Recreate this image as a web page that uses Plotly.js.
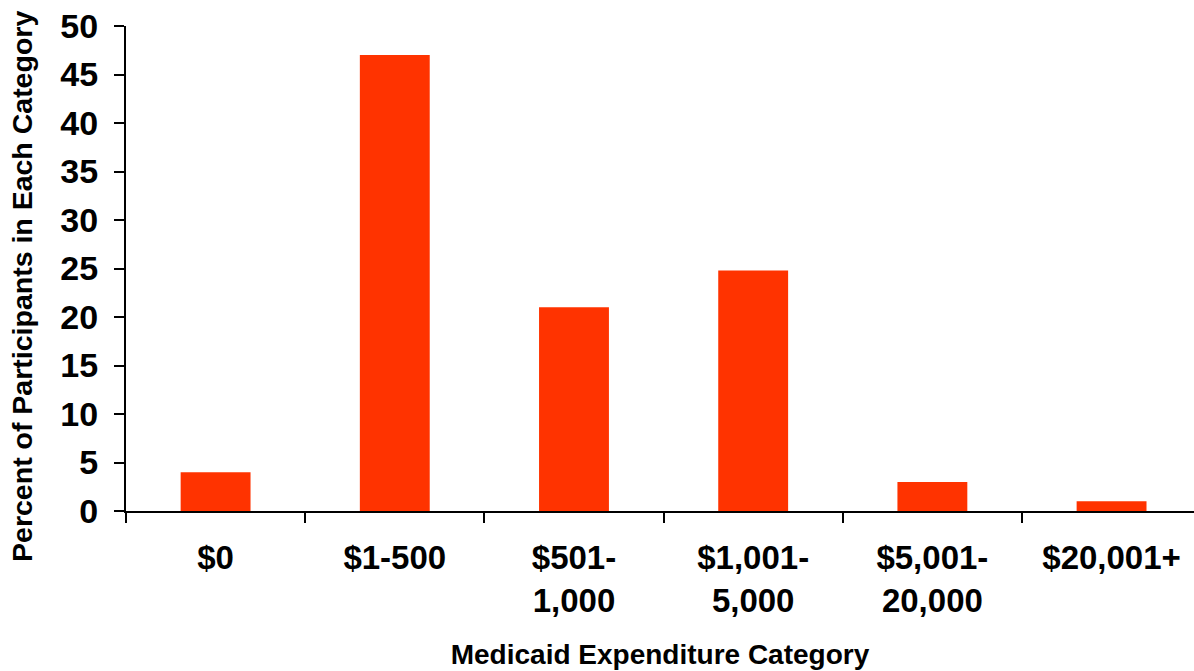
<!DOCTYPE html>
<html>
<head>
<meta charset="utf-8">
<script src="https://cdn.plot.ly/plotly-3.0.1.min.js"></script>
<style>html,body{margin:0;padding:0;background:#fff;}#chart{width:1194px;height:671px;}</style>
</head>
<body>
<div id="chart"></div>
<script>
const categories = ["$0", "$1-500", "$501-<br>1,000", "$1,001-<br>5,000", "$5,001-<br>20,000", "$20,001+"];
const percents = [4.0, 47, 21, 24.8, 3.0, 1.0];
const yTicks = [0, 5, 10, 15, 20, 25, 30, 35, 40, 45, 50];
const xTitle = "Medicaid Expenditure Category";
const yTitle = "Percent of Participants in Each Category";

const font = "'Liberation Sans', Arial, sans-serif";

Plotly.newPlot("chart", [{
  type: "bar",
  x: categories,
  y: percents,
  width: 0.39,
  marker: {color: "#FF3300", line: {width: 0}},
  hoverinfo: "skip"
}], {
  width: 1194, height: 671,
  margin: {l: 126, r: 0, t: 26, b: 160},
  paper_bgcolor: "#fff", plot_bgcolor: "#fff",
  showlegend: false,
  font: {family: font, color: "#000"},
  xaxis: {
    type: "category",
    range: [-0.5, 5.46],
    showline: true, linecolor: "#000", linewidth: 2,
    ticks: "outside", tickson: "boundaries", ticklen: 10, tickwidth: 2, tickcolor: "#000",
    showgrid: false, zeroline: false,
    tickfont: {family: font, size: 33, weight: "bold", color: "#000"},
    ticklabelstandoff: 16,
    title: {text: xTitle, font: {family: font, size: 28, weight: "bold", color: "#000"}, standoff: 27},
    automargin: false
  },
  yaxis: {
    range: [0, 50],
    tickvals: yTicks,
    showline: true, linecolor: "#000", linewidth: 2,
    ticks: "outside", ticklen: 10, tickwidth: 2, tickcolor: "#000",
    showgrid: false, zeroline: false,
    tickfont: {family: font, size: 34, weight: "bold", color: "#000"},
    ticklabelstandoff: 9,
    automargin: false
  },
  annotations: [{
    text: yTitle, textangle: -90,
    xref: "paper", yref: "paper", x: 0, y: 0.462,
    xanchor: "center", yanchor: "middle", xshift: -104,
    showarrow: false,
    font: {family: font, size: 28.5, weight: "bold", color: "#000"}
  }]
}, {staticPlot: true, displayModeBar: false});
</script>
</body>
</html>
